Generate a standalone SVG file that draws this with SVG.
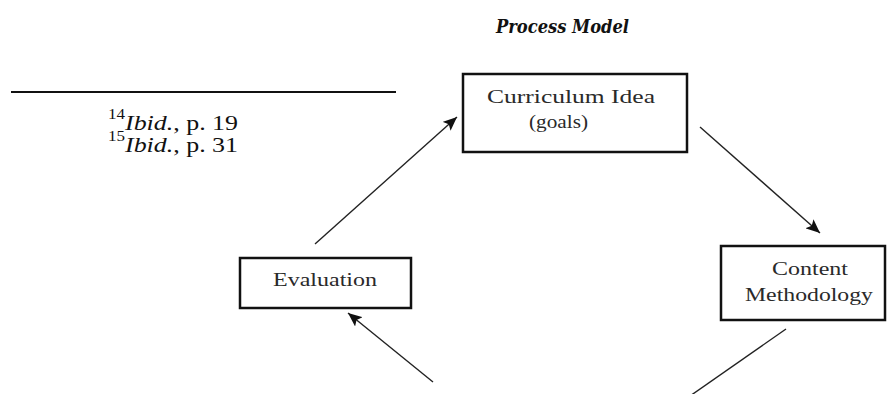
<svg xmlns="http://www.w3.org/2000/svg" width="888" height="394" viewBox="0 0 888 394">
  <defs>
    <marker id="arrow" viewBox="0 0 14 12" refX="14" refY="6" markerWidth="14" markerHeight="12" markerUnits="userSpaceOnUse" orient="auto">
      <path d="M0,0 L14,6 L0,12 L3,6 Z" fill="#111"/>
    </marker>
    <style>
      .box { fill: #fff; stroke: #111; stroke-width: 2.5; }
      .label { font-family: 'Liberation Serif', serif; font-size: 19px; fill: #2a2a2a; }
      .foot { font-family: 'Liberation Serif', serif; font-size: 21px; fill: #111; }
      .sup { font-size: 14px; }
      .edge { stroke: #222; stroke-width: 1.4; fill: none; }
    </style>
  </defs>

  <rect width="888" height="394" fill="#fff"/>

  <!-- Title -->
  <text x="496" y="33" font-family="'DejaVu Serif', serif" font-weight="bold" font-style="italic" font-size="18" fill="#111" textLength="133" lengthAdjust="spacingAndGlyphs">Process Model</text>

  <!-- Footnotes -->
  <g id="footnotes">
    <line x1="11" y1="92" x2="396" y2="92" stroke="#111" stroke-width="2"/>
    <text class="foot sup" x="108" y="119" textLength="17" lengthAdjust="spacingAndGlyphs">14</text>
    <text class="foot" x="125" y="130" textLength="113" lengthAdjust="spacingAndGlyphs"><tspan font-style="italic">Ibid.</tspan>, p. 19</text>
    <text class="foot sup" x="108" y="141" textLength="17" lengthAdjust="spacingAndGlyphs">15</text>
    <text class="foot" x="125" y="152" textLength="113" lengthAdjust="spacingAndGlyphs"><tspan font-style="italic">Ibid.</tspan>, p. 31</text>
  </g>

  <!-- Connectors -->
  <g id="connectors">
    <line class="edge" x1="700" y1="127" x2="820" y2="233" marker-end="url(#arrow)"/>
    <line class="edge" x1="786" y1="329" x2="690" y2="396"/>
    <line class="edge" x1="433" y1="382" x2="348" y2="313" marker-end="url(#arrow)"/>
    <line class="edge" x1="315" y1="244" x2="457" y2="117" marker-end="url(#arrow)"/>
  </g>

  <!-- Nodes -->
  <g id="curriculum-idea">
    <rect class="box" x="463" y="74" width="224" height="78"/>
    <text class="label" x="487" y="103" textLength="168" lengthAdjust="spacingAndGlyphs">Curriculum Idea</text>
    <text class="label" x="529" y="128" textLength="59" lengthAdjust="spacingAndGlyphs">(goals)</text>
  </g>

  <g id="evaluation">
    <rect class="box" x="240" y="258" width="171" height="50"/>
    <text class="label" x="273" y="286" textLength="104" lengthAdjust="spacingAndGlyphs">Evaluation</text>
  </g>

  <g id="content-methodology">
    <rect class="box" x="721" y="246" width="164" height="74"/>
    <text class="label" x="772" y="275" textLength="76" lengthAdjust="spacingAndGlyphs">Content</text>
    <text class="label" x="745" y="301" textLength="128" lengthAdjust="spacingAndGlyphs">Methodology</text>
  </g>
</svg>
